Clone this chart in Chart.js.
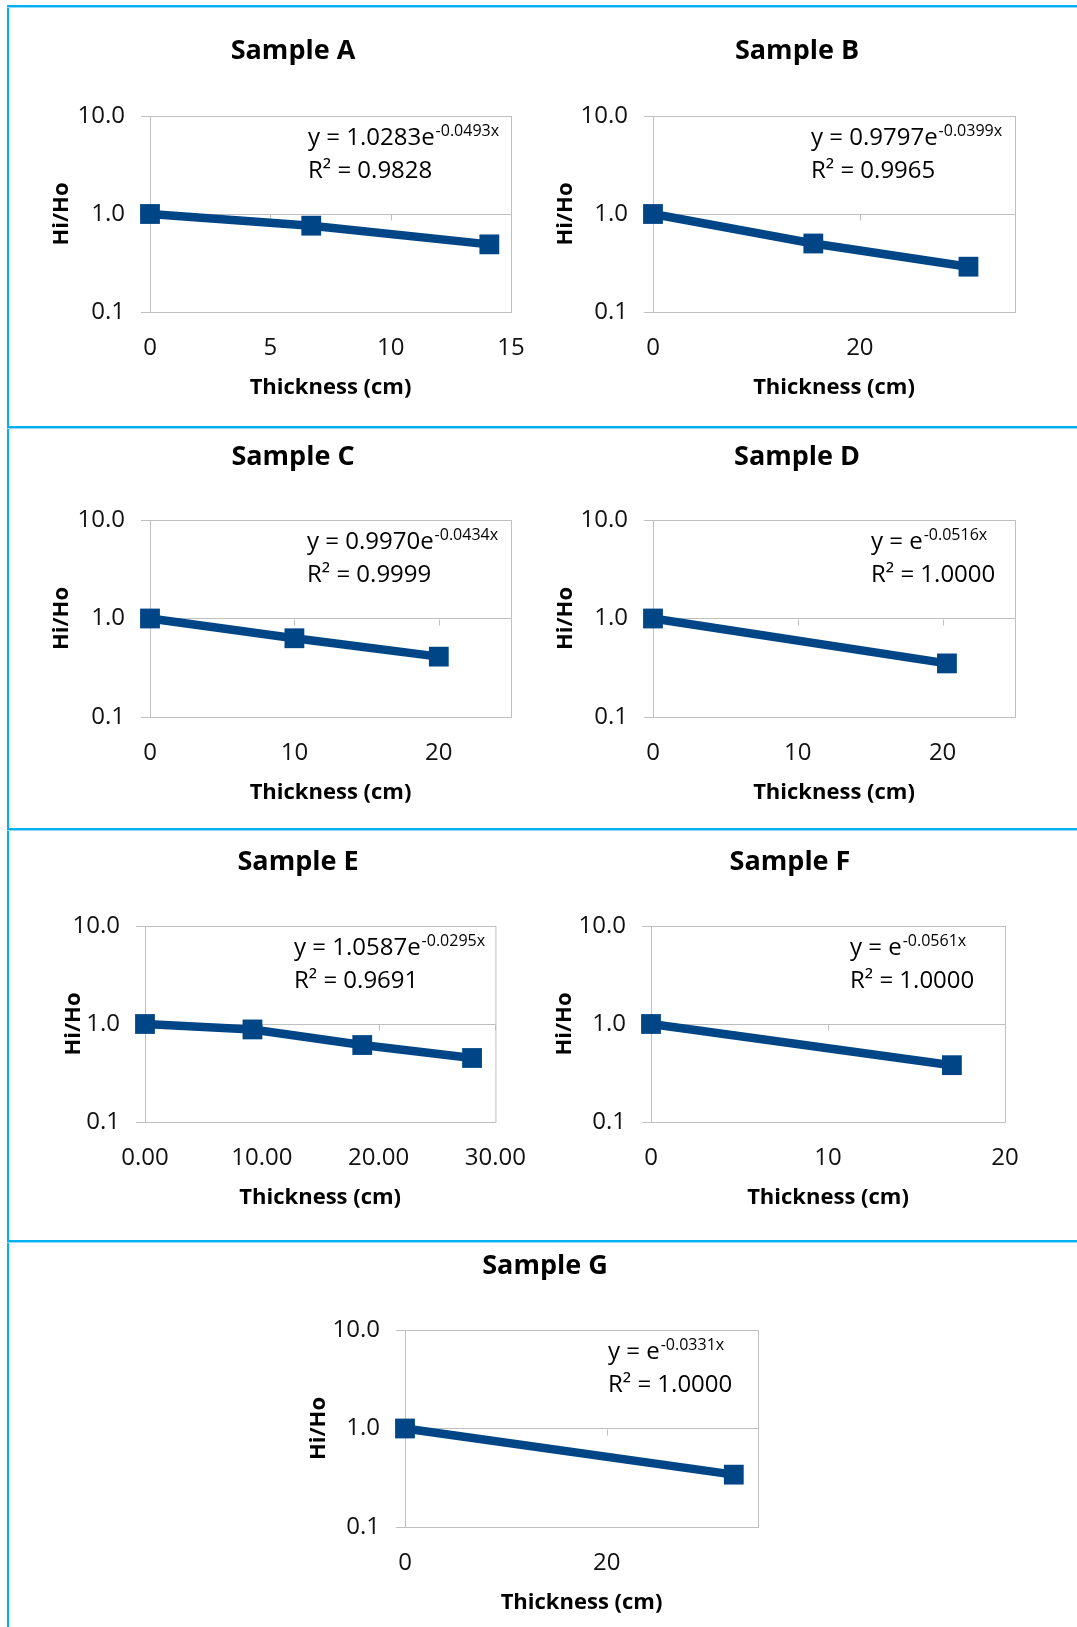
<!DOCTYPE html>
<html>
<head>
<meta charset="utf-8">
<script src="https://cdn.jsdelivr.net/npm/chart.js@4.4.0/dist/chart.umd.min.js"></script>
<style>
  html, body { margin: 0; padding: 0; background: #fff; }
  body { width: 1077px; height: 1627px; position: relative; overflow: hidden; }
  .vline { position: absolute; left: 7px; top: 5px; width: 2px; bottom: 0; background: #00b0f0; }
  .hline { position: absolute; left: 7px; right: 0; height: 2px; background: #00b0f0; border-bottom: 1px solid #8fd9f6; }
  canvas { position: absolute; }
</style>
</head>
<body>
<div class="vline"></div>
<div class="hline" style="top:5px"></div>
<div class="hline" style="top:426px"></div>
<div class="hline" style="top:828px"></div>
<div class="hline" style="top:1240px"></div>
<script>
// values
const sampleNames = ['Sample A', 'Sample B', 'Sample C', 'Sample D', 'Sample E', 'Sample F', 'Sample G'];

const thicknessA = [0, 6.7, 14.1];
const ratioA = [1.00, 0.76, 0.49];
const thicknessB = [0, 15.5, 30.5];
const ratioB = [1.00, 0.50, 0.29];
const thicknessC = [0, 10.0, 20.0];
const ratioC = [1.00, 0.63, 0.41];
const thicknessD = [0, 20.3];
const ratioD = [1.00, 0.35];
const thicknessE = [0, 9.2, 18.6, 28.0];
const ratioE = [1.00, 0.88, 0.61, 0.45];
const thicknessF = [0, 17.0];
const ratioF = [1.00, 0.38];
const thicknessG = [0, 32.6];
const ratioG = [1.00, 0.34];

const fitCoef = ['1.0283', '0.9797', '0.9970', '', '1.0587', '', ''];
const fitRate = ['-0.0493', '-0.0399', '-0.0434', '-0.0516', '-0.0295', '-0.0561', '-0.0331'];
const fitR2 = ['0.9828', '0.9965', '0.9999', '1.0000', '0.9691', '1.0000', '1.0000'];

const yTicks = [0.1, 1, 10];
const xMax = [15, 35, 25, 25, 30, 20, 35];
const xStep = [5, 20, 10, 10, 10, 10, 20];
const xDecimals = [0, 0, 0, 0, 2, 0, 0];

const thickness = [thicknessA, thicknessB, thicknessC, thicknessD, thicknessE, thicknessF, thicknessG];
const ratio = [ratioA, ratioB, ratioC, ratioD, ratioE, ratioF, ratioG];

// page layout: plot rect, title centre/baseline, y title offset, equation offset
const panels = [
  { l: 150, t: 116, r: 511, b: 312, tx: 293, ty: 59, yt: 88, eq: 158 },
  { l: 653, t: 116, r: 1015, b: 312, tx: 797, ty: 59, yt: 87, eq: 158 },
  { l: 150, t: 520, r: 511, b: 717, tx: 293, ty: 465, yt: 88, eq: 157 },
  { l: 653, t: 520, r: 1015, b: 717, tx: 797, ty: 465, yt: 87, eq: 218 },
  { l: 145, t: 926, r: 498, b: 1122, tx: 298, ty: 870, yt: 71, eq: 149 },
  { l: 651, t: 926, r: 1005, b: 1122, tx: 790, ty: 870, yt: 86, eq: 199 },
  { l: 405, t: 1330, r: 758, b: 1527, tx: 545, ty: 1274, yt: 86, eq: 203 }
];

const NAVY = '#004586';
const GRID = '#bfbfbf';
const FONT = '"Open Sans"';
const PAD_L = 110, PAD_T = 100, PAD_R = 50, PAD_B = 100;

Chart.defaults.font.family = FONT;
Chart.defaults.color = '#000';

const panelText = {
  id: 'panelText',
  beforeDatasetsDraw(chart) {
    const { ctx, chartArea: a } = chart;
    const xs = chart.scales.x, ys = chart.scales.y;
    ctx.save();
    ctx.strokeStyle = GRID;
    ctx.lineWidth = 1;
    ctx.strokeRect(a.left + 0.5, a.top + 0.5, a.right - a.left, a.bottom - a.top);
    // small tick marks on the horizontal axis, which crosses at 1.0
    const y1 = Math.round(ys.getPixelForValue(1)) + 0.5;
    ctx.beginPath();
    xs.ticks.forEach(t => {
      const px = Math.round(xs.getPixelForValue(t.value)) + 0.5;
      ctx.moveTo(px, y1);
      ctx.lineTo(px, y1 + 6);
    });
    ctx.stroke();
    ctx.restore();
  },
  afterDraw(chart, args, o) {
    const { ctx, chartArea: a } = chart;
    ctx.save();
    ctx.fillStyle = '#000';
    ctx.textBaseline = 'alphabetic';
    ctx.textAlign = 'center';
    ctx.font = 'bold 27px ' + FONT;
    ctx.fillText(o.title, o.tx, o.ty);

    ctx.textAlign = 'left';
    const ex = a.left + o.eq;
    const main = o.coef ? 'y = ' + o.coef + 'e' : 'y = e';
    ctx.font = '24px ' + FONT;
    ctx.fillText(main, ex, a.top + 29);
    const w = ctx.measureText(main).width;
    ctx.font = '16px ' + FONT;
    ctx.fillText(o.rate + 'x', ex + w + 1, a.top + 20);
    ctx.font = '24px ' + FONT;
    ctx.fillText('R\u00B2 = ' + o.r2, ex, a.top + 62);
    ctx.restore();
  }
};

panels.forEach((p, i) => {
  const cv = document.createElement('canvas');
  const cw = (p.r - p.l) + PAD_L + PAD_R;
  const ch = (p.b - p.t) + PAD_T + PAD_B;
  const cl = p.l - PAD_L, ct = p.t - PAD_T;
  cv.width = cw;
  cv.height = ch;
  cv.style.left = cl + 'px';
  cv.style.top = ct + 'px';
  document.body.appendChild(cv);

  const pts = thickness[i].map((x, k) => ({ x: x, y: ratio[i][k] }));

  new Chart(cv.getContext('2d'), {
    type: 'line',
    data: {
      datasets: [{
        data: pts,
        borderColor: NAVY,
        borderWidth: 8.5,
        borderJoinStyle: 'round',
        backgroundColor: NAVY,
        pointStyle: 'rect',
        pointRadius: 14,
        pointBorderWidth: 0,
        pointBackgroundColor: NAVY,
        tension: 0,
        clip: false
      }]
    },
    options: {
      responsive: false,
      animation: false,
      events: [],
      layout: { padding: { left: 4, top: PAD_T, right: PAD_R, bottom: 4 } },
      plugins: {
        legend: { display: false },
        tooltip: { enabled: false },
        panelText: {
          title: sampleNames[i],
          tx: p.tx - cl, ty: p.ty - ct,
          eq: p.eq,
          coef: fitCoef[i], rate: fitRate[i], r2: fitR2[i]
        }
      },
      scales: {
        x: {
          type: 'linear',
          min: 0,
          max: xMax[i],
          afterFit: s => { s.height = PAD_B - 4; },
          grid: { display: false, drawTicks: false },
          border: { display: false },
          ticks: {
            stepSize: xStep[i],
            includeBounds: false,
            padding: 22,
            color: '#111',
            font: { size: 24 },
            callback: v => Number(v).toFixed(xDecimals[i])
          },
          title: {
            display: true,
            text: 'Thickness (cm)',
            font: { size: 22, weight: 'bold' },
            padding: { top: 0, bottom: 7 }
          }
        },
        y: {
          type: 'logarithmic',
          min: 0.1,
          max: 10,
          afterFit: s => { s.width = PAD_L - 4; },
          afterBuildTicks: s => { s.ticks = yTicks.map(v => ({ value: v })); },
          grid: { color: GRID, tickLength: 9, lineWidth: 1 },
          border: { display: false },
          ticks: {
            padding: 16,
            color: '#111',
            font: { size: 24 },
            callback: v => Number(v).toFixed(1)
          },
          title: {
            display: true,
            text: 'Hi/Ho',
            font: { size: 22, weight: 'bold' },
            padding: { top: PAD_L - p.yt - 4 - 13.2, bottom: 0 }
          }
        }
      }
    },
    plugins: [panelText]
  });
});
</script>
</body>
</html>
